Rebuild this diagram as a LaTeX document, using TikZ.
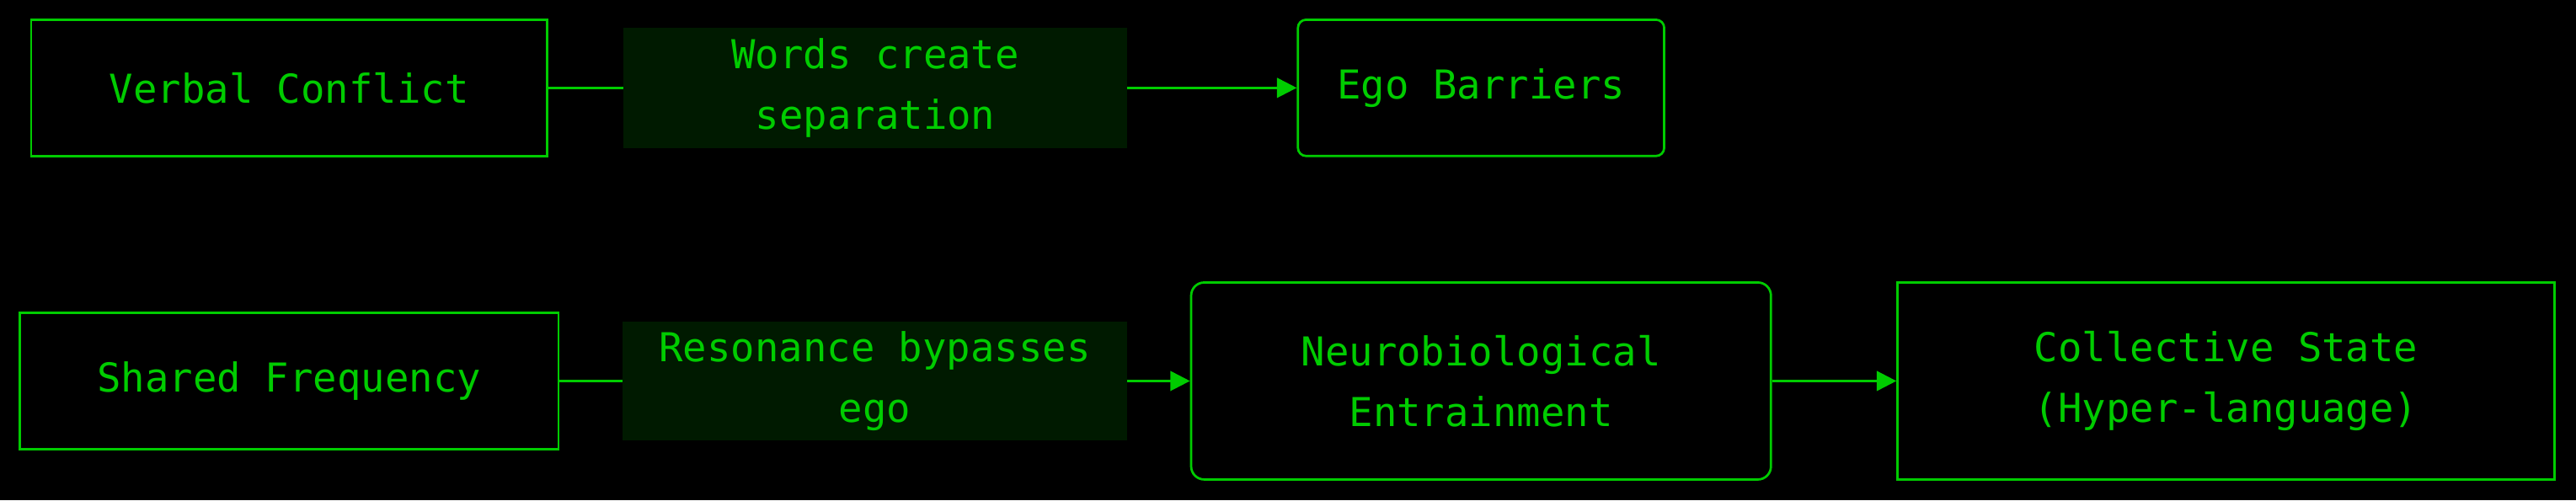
\documentclass[tikz,border=0pt]{standalone}
\usepackage{fontspec}
\usepackage{tikz}
\usepackage{xcolor}
\usetikzlibrary{arrows.meta}
\setmonofont{DejaVu Sans Mono}
\definecolor{termgreen}{RGB}{0, 204, 0}
\definecolor{labelgreen}{RGB}{0, 26, 0}

\begin{document}
\begin{tikzpicture}[x=0.02cm, y=-0.02cm,
    box/.style={draw=termgreen, line width=0.8pt, fill=black, text=termgreen,
        font=\ttfamily\fontsize{13.8}{21}\selectfont, align=center, inner sep=0pt},
    roundbox/.style={box, rounded corners=0.1cm},
    edgelabel/.style={fill=labelgreen, text=termgreen,
        font=\ttfamily\fontsize{13.8}{21}\selectfont, align=center, inner sep=0pt,
        minimum width=6.14cm, minimum height=1.46cm},
    flow/.style={draw=termgreen, line width=0.8pt, -{Triangle[length=0.24cm, width=0.24cm]}}]
            % Background
            \fill[black] (0,0) rectangle (1568,304.6);
            \useasboundingbox (0,0) rectangle (1568,304.6);

            % Top row
            \node[box, minimum width=6.28cm, minimum height=1.66cm] (verbal) at (176,53.5) {Verbal Conflict};
            \node[roundbox, minimum width=4.46cm, minimum height=1.66cm] (ego) at (901.5,53.5) {Ego Barriers};
            \draw[flow] (verbal) -- node[edgelabel, pos=0.437] (words) {Words create\\separation} (ego);

            % Bottom row
            \node[box, minimum width=6.56cm, minimum height=1.66cm] (shared) at (176,232) {Shared Frequency};
            \node[roundbox, rounded corners=0.16cm, minimum width=7.06cm, minimum height=2.4cm] (neuro) at (901.5,232) {Neurobiological\\Entrainment};
            \node[box, minimum width=8cm, minimum height=2.4cm] (collective) at (1355,232) {Collective State\\(Hyper-language)};
            \draw[flow] (shared) -- node[edgelabel, minimum height=1.44cm] (resonance) {Resonance bypasses\\ego} (neuro);
            \draw[flow] (neuro) -- (collective);
        \end{tikzpicture}
\end{document}
